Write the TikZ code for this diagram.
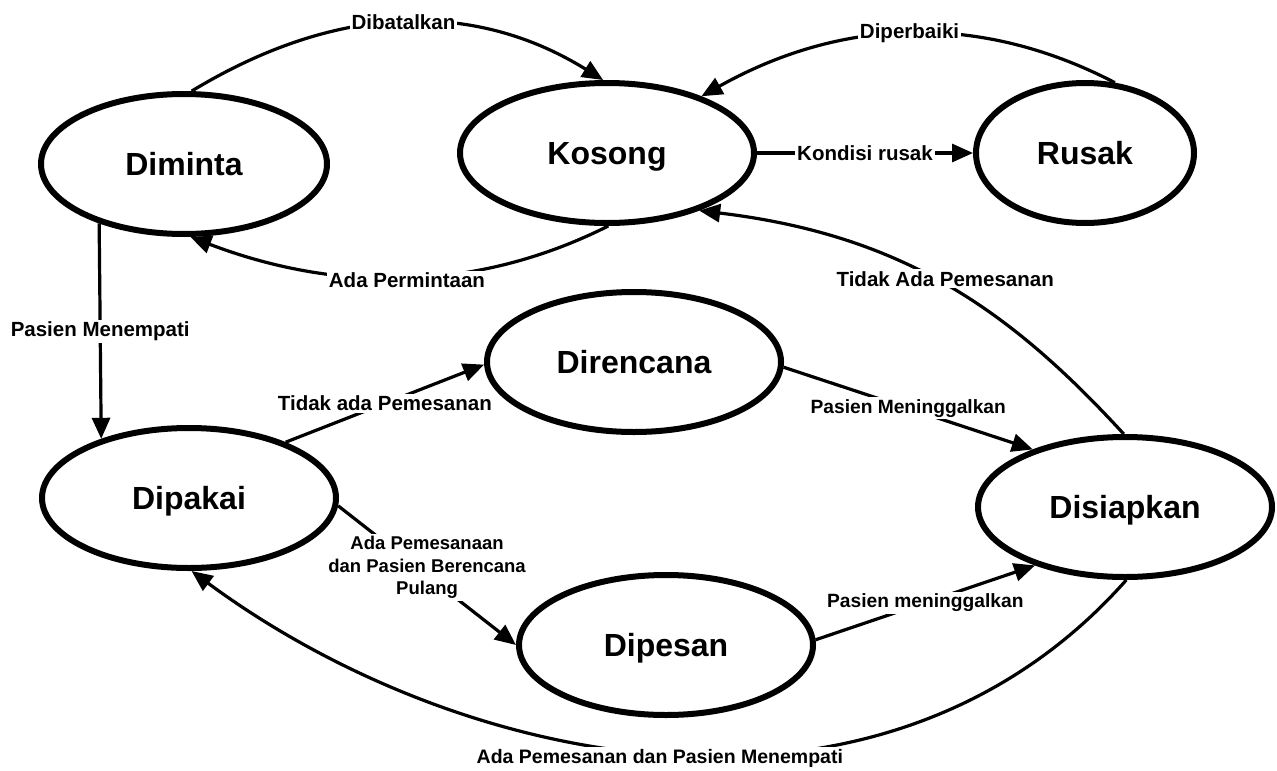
\documentclass[tikz,border=0pt]{standalone}
\usepackage{fontspec}
\setmainfont{Liberation Sans}
\usetikzlibrary{arrows.meta,shapes.geometric}
\begin{document}
\begin{tikzpicture}[x=1pt,y=-1pt,
  roomstate/.style={ellipse,draw,line width=6pt,inner sep=0pt,
    minimum width=294pt,minimum height=140pt,text height=23pt,text depth=0pt,
    font=\fontsize{32}{38}\selectfont\bfseries},
  trans/.style={line width=3.2pt,-{Triangle[length=21pt,width=18pt]}},
  lbl/.style={fill=white,inner sep=2pt,font=\fontsize{20.5}{23}\selectfont\bfseries},
  lblsmall/.style={lbl,font=\fontsize{19.2}{23}\selectfont\bfseries},
]
\useasboundingbox (0,0) rectangle (1277,771);

% states of a room
\node[roomstate,minimum width=286pt] (dm) at (184,164) {Diminta};
\node[roomstate] (ks) at (607,153) {Kosong};
\node[roomstate,minimum width=218pt] (rs) at (1085,153) {Rusak};
\node[roomstate] (dr) at (634,362) {Direncana};
\node[roomstate] (dk) at (189,498) {Dipakai};
\node[roomstate] (ds) at (1125,507) {Disiapkan};
\node[roomstate] (dp) at (666,645) {Dipesan};

% transitions
\draw[trans] (dm.84) .. controls (337,3) and (474,0) .. (ks.93)
  node[lbl,pos=.5] {Dibatalkan};
\draw[trans] (rs.67) .. controls (979,12) and (841,18) .. (ks.31)
  node[lbl,pos=.5] {Diperbaiki};
\draw[trans] (ks.east) -- node[lbl] {Kondisi rusak} (rs.west);
\draw[trans] (ks.271) .. controls (479,291) and (340,294) .. (dm.275)
  node[lbl,pos=.5,yshift=-3pt] {Ada Permintaan};
\draw[trans] (dm.215.5) -- node[lbl] {Pasien Menempati} (dk.146.5);
\draw[trans] (dk.30) -- node[lbl] {Tidak ada Pemesanan} (dr.181);
\draw[trans] (dr.358) -- node[lblsmall] {Pasien Meninggalkan} (ds.148);
\draw[trans] (ds.91) .. controls (1010,310) and (903,235) .. (ks.328)
  node[lbl,pos=.5,yshift=6pt] {Tidak Ada Pemesanan};
\draw[trans] (dk.357) -- node[lbl,align=center,yshift=8pt,
    font=\fontsize{18.5}{22.5}\selectfont\bfseries]
  {Ada Pemesanaan\\dan Pasien Berencana\\Pulang} (dp.180);
\draw[trans] (dp.2) -- node[lblsmall] {Pasien meninggalkan} (ds.213);
\draw[trans] (ds.271) .. controls (883,855) and (464,772) .. (dk.272)
  node[lbl,pos=.5,xshift=-10pt,yshift=-4pt,
    font=\fontsize{19.5}{23}\selectfont\bfseries] {Ada Pemesanan dan Pasien Menempati};
\end{tikzpicture}
\end{document}
